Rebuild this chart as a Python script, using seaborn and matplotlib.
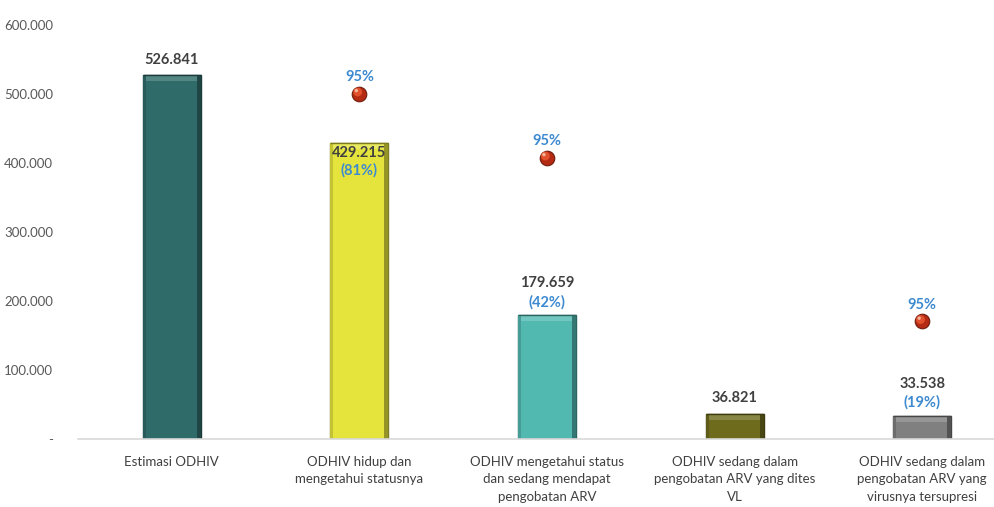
import matplotlib
matplotlib.use("Agg")
import matplotlib.pyplot as plt
import matplotlib.transforms as mtransforms
from matplotlib.patches import Rectangle
from matplotlib.colors import to_rgb
import seaborn as sns
import pandas as pd

# Cascade data
categories = [
    "Estimasi ODHIV",
    "ODHIV hidup dan\nmengetahui statusnya",
    "ODHIV mengetahui status\ndan sedang mendapat\npengobatan ARV",
    "ODHIV sedang dalam\npengobatan ARV yang dites\nVL",
    "ODHIV sedang dalam\npengobatan ARV yang\nvirusnya tersupresi",
]
values = [526841, 429215, 179659, 36821, 33538]
value_labels = ["526.841", "429.215", "179.659", "36.821", "33.538"]
pct_labels = [None, "(81%)", "(42%)", None, "(19%)"]
target_idx = [1, 2, 4]
target_values = [500499, 407754, 170676]
target_labels = ["95%", "95%", "95%"]
yticks = [0, 100000, 200000, 300000, 400000, 500000, 600000]
ytick_labels = ["-", "100.000", "200.000", "300.000", "400.000", "500.000", "600.000"]
bar_colors = ["#2F6B69", "#E4E43C", "#52B9B1", "#6E6C1C", "#808080"]

sns.set_theme(style="white")
plt.rcParams["font.family"] = ["Lato", "DejaVu Sans"]

W, H = 995, 507
fig = plt.figure(figsize=(W / 100, H / 100), dpi=100)
x0, x1 = 78, 1016
y_top, y_zero = 25, 439
ax = fig.add_axes([x0 / W, (H - y_zero) / H, (x1 - x0) / W, (y_zero - y_top) / H])

df = pd.DataFrame({"cat": categories, "val": values})
sns.barplot(data=df, x="cat", y="val", hue="cat", palette=bar_colors,
            legend=False, width=0.31, ax=ax, saturation=1)

ax.set_xlim(-0.5, 4.5)
ax.set_ylim(0, 600000)
ax.set_yticks(yticks)
ax.set_yticklabels(ytick_labels)
ax.set_xlabel("")
ax.set_ylabel("")
ax.tick_params(axis="y", length=0, pad=18, labelsize=9.5, labelcolor="#595959")
ax.tick_params(axis="x", length=0, pad=12, labelsize=9.5, labelcolor="#404040")
for lab in ax.get_xticklabels():
    lab.set_linespacing(1.55)
for s in ["top", "right", "left"]:
    ax.spines[s].set_visible(False)
ax.spines["bottom"].set_color("#D9D9D9")
ax.spines["bottom"].set_linewidth(1.2)

# data units per pixel
py = 600000 / (y_zero - y_top)
px = 5.0 / (x1 - x0)


def shade(c, f):
    r, g, b = to_rgb(c)
    if f < 0:
        return (r * (1 + f), g * (1 + f), b * (1 + f))
    return (r + (1 - r) * f, g + (1 - g) * f, b + (1 - b) * f)


# bevelled look for each bar
for patch, c in zip(ax.patches, bar_colors):
    x, w, h = patch.get_x(), patch.get_width(), patch.get_height()
    patch.set_edgecolor(shade(c, -0.45))
    patch.set_linewidth(1.0)
    bev = min(6 * py, h * 0.3)
    ax.add_patch(Rectangle((x + 2 * px, h - bev), w - 4 * px, bev, facecolor=shade(c, 0.18),
                           edgecolor="none", zorder=patch.get_zorder() + 0.1))
    ax.add_patch(Rectangle((x + w - 4 * px, 0), 4 * px, h, facecolor=shade(c, -0.35),
                           edgecolor="none", zorder=patch.get_zorder() + 0.2))
    ax.add_patch(Rectangle((x, 0), 3 * px, h, facecolor=shade(c, -0.15),
                           edgecolor="none", zorder=patch.get_zorder() + 0.2))
    ax.add_patch(Rectangle((x, h), w, 0.0001, facecolor="none",
                           edgecolor=shade(c, -0.45), linewidth=1.0,
                           zorder=patch.get_zorder() + 0.3))

val_color = "#404040"
pct_color = "#3D8AD0"

for i, (v, vl, pl) in enumerate(zip(values, value_labels, pct_labels)):
    if i == 1:
        # label sits on the top edge of this bar
        ax.annotate(vl, (i, v), xytext=(0, -7), textcoords="offset points",
                    ha="center", va="center", fontsize=10.5, fontweight="bold",
                    color=val_color, zorder=10)
        ax.annotate(pl, (i, v), xytext=(0, -20), textcoords="offset points",
                    ha="center", va="center", fontsize=10.5, fontweight="bold",
                    color=pct_color, zorder=10)
    elif pl is None:
        ax.annotate(vl, (i, v), xytext=(0, 11), textcoords="offset points",
                    ha="center", va="center", fontsize=10.5, fontweight="bold",
                    color=val_color)
    else:
        ax.annotate(vl, (i, v), xytext=(0, 23), textcoords="offset points",
                    ha="center", va="center", fontsize=10.5, fontweight="bold",
                    color=val_color)
        ax.annotate(pl, (i, v), xytext=(0, 9.5), textcoords="offset points",
                    ha="center", va="center", fontsize=10.5, fontweight="bold",
                    color=pct_color)

# target markers drawn as small shaded spheres
hl = mtransforms.offset_copy(ax.transData, fig=fig, x=-1.2, y=1.2, units="points")
hl2 = mtransforms.offset_copy(ax.transData, fig=fig, x=-2.2, y=2.2, units="points")
for i, tv, tl in zip(target_idx, target_values, target_labels):
    ax.scatter([i], [tv], s=110, color="#B42A12", edgecolor="#6E1C0E",
               linewidth=0.8, zorder=12)
    ax.scatter([i], [tv], s=40, color="#E0502C", edgecolor="none",
               zorder=13, transform=hl)
    ax.scatter([i], [tv], s=6, color="#F6B49A", edgecolor="none",
               zorder=14, transform=hl2)
    ax.annotate(tl, (i, tv), xytext=(0, 12), textcoords="offset points",
                ha="center", va="center", fontsize=10.5, fontweight="bold",
                color=pct_color)

fig.savefig("out.png", dpi=100)
